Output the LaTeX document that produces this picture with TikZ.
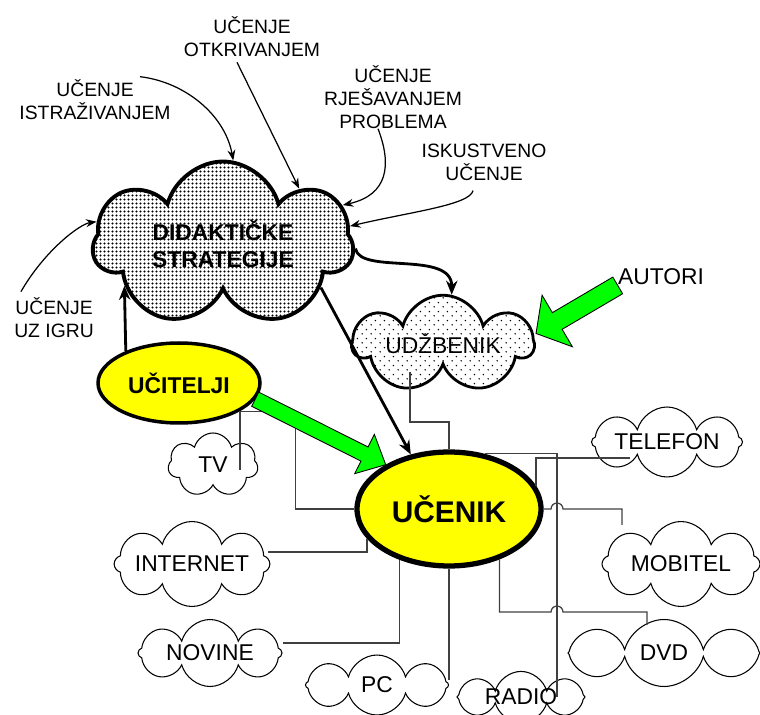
\documentclass[tikz,border=0pt]{standalone}
\usepackage{fontspec}
\setmainfont{Liberation Sans}
\usetikzlibrary{arrows.meta}
\usetikzlibrary{shapes.symbols}
\usetikzlibrary{shapes.geometric}
\usetikzlibrary{patterns.meta}
\usetikzlibrary{calc}

\definecolor{zelena}{RGB}{0,255,0}
\definecolor{zuta}{RGB}{255,255,0}

\tikzdeclarepattern{
	name=gustetocke,
	type=uncolored,
	bottom left={(0pt,0pt)},
	top right={(2pt,2pt)},
	tile size={(2pt,2pt)},
	code={\fill (1pt,1pt) circle (0.72pt);}
}
\tikzdeclarepattern{
	name=rijetketocke,
	type=uncolored,
	bottom left={(0pt,0pt)},
	top right={(5pt,5pt)},
	tile size={(5pt,5pt)},
	code={\fill (1.25pt,1.25pt) circle (0.45pt); \fill (3.75pt,3.75pt) circle (0.45pt);}
}

\tikzset{
	natpis/.style={align=center, inner sep=0pt, font=\fontsize{11}{13}\selectfont},
	oblak/.style={cloud, draw, cloud puffs=8, cloud ignores aspect, line width=0.6pt, inner sep=0pt, align=center, font=\fontsize{13}{15}\selectfont},
	osoba/.style={ellipse, draw, fill=zuta, inner sep=0pt},
	tanka/.style={-{Stealth[length=6pt,width=4.5pt]}, line width=0.7pt},
	debela/.style={-{Stealth[length=8pt,width=6.5pt]}, line width=1.6pt},
	vod/.style={line width=0.7pt, draw=black!75},
	zelenastrelica/.style={draw, fill=zelena, line width=0.5pt, line join=miter}
}

\newcommand{\debelastrelica}[5]{%
	\coordinate (ds-a) at (#1);
	\coordinate (ds-b) at (#2);
	\coordinate (ds-h) at ($(ds-b)!#5!(ds-a)$);
	\draw[zelenastrelica] ($(ds-a)!#3!90:(ds-b)$) -- ($(ds-h)!#3!90:(ds-b)$) -- ($(ds-h)!#4!90:(ds-b)$) -- (ds-b)
		-- ($(ds-h)!#4!-90:(ds-b)$) -- ($(ds-h)!#3!-90:(ds-b)$) -- ($(ds-a)!#3!-90:(ds-b)$) -- cycle;
}

\begin{document}
\begin{tikzpicture}[x=0.02cm, y=-0.02cm]
		\useasboundingbox (0,0) rectangle (760,715);
		\node[natpis] (otkrivanjem) at (252,37) {UČENJE\\OTKRIVANJEM};
		\node[natpis] (istrazivanjem) at (95,100) {UČENJE\\ISTRAŽIVANJEM};
		\node[natpis] (rjesavanjem) at (393,97) {UČENJE\\RJEŠAVANJEM\\PROBLEMA};
		\node[natpis] (iskustveno) at (484,162) {ISKUSTVENO\\UČENJE};
		\node[natpis] (uzigru) at (54,318) {UČENJE\\UZ IGRU};
		\node[natpis, font=\fontsize{13}{15}\selectfont] (autori) at (661,277) {AUTORI};
		\node[oblak, pattern=gustetocke, cloud puffs=7, line width=2.2pt, font=\fontsize{13}{15}\selectfont\bfseries, minimum width=5.2cm, minimum height=3.3cm] (didakticke) at (223,244) {DIDAKTIČKE\\STRATEGIJE};
		\node[oblak, pattern=rijetketocke, cloud puffs=7, line width=1.6pt, minimum width=3.6cm, minimum height=1.95cm] (udzbenik) at (443,344) {UDŽBENIK};
		\node[osoba, line width=2pt, font=\fontsize{13}{15}\selectfont\bfseries, minimum width=3.24cm, minimum height=1.6cm] (ucitelji) at (179,383) {UČITELJI};
		\node[osoba, line width=3pt, font=\fontsize{17}{19}\selectfont\bfseries, minimum width=3.68cm, minimum height=2.28cm] (ucenik) at (449,509) {UČENIK};
		\node[oblak, cloud puffs=7, minimum width=1.8cm, minimum height=1.28cm] (tv) at (213,465) {TV};
		\node[oblak, minimum width=3.1cm, minimum height=1.7cm] (internet) at (192,564) {INTERNET};
		\node[oblak, minimum width=2.88cm, minimum height=1.34cm] (novine) at (210,653) {NOVINE};
		\node[oblak, minimum width=2.86cm, minimum height=1.2cm] (pc) at (377,685) {PC};
		\node[oblak, minimum width=2.56cm, minimum height=0.96cm] (radio) at (521,697) {RADIO};
		\node[oblak, minimum width=3.84cm, minimum height=1.34cm] (dvd) at (664,653) {DVD};
		\node[oblak, minimum width=3.16cm, minimum height=1.7cm] (mobitel) at (681,564) {MOBITEL};
		\node[oblak, minimum width=3.02cm, minimum height=1.4cm] (telefon) at (667,442) {TELEFON};
		\coordinate (udzbenik-izlaz) at (410,372);
		\coordinate (tv-ulaz) at (240,470);
		\coordinate (internet-izlaz) at (268,552);
		\coordinate (novine-izlaz) at (283,643);
		\coordinate (pc-ulaz) at (449,680);
		\coordinate (radio-vod) at (557,455);
		\coordinate (radio-ulaz) at (557,697);
		\coordinate (dvd-ulaz) at (647,625);
		\coordinate (mobitel-ulaz) at (622,525);
		\coordinate (telefon-ulaz) at (630,458);
		\draw[tanka] ($(istrazivanjem.north)+(45,-3)$) .. controls (185,82) and (225,115) .. (didakticke.83);
		\draw[tanka] ($(otkrivanjem.south)+(-15,5)$) -- (didakticke.36);
		\draw[tanka] ($(rjesavanjem.south)+(-15,0)$) .. controls (392,165) and (388,195) .. (didakticke.18);
		\draw[tanka] ($(iskustveno.south)+(-11,10)$) .. controls (470,205) and (410,212) .. (didakticke.8);
		\draw[tanka] ($(uzigru.north west)+(7,-6)$) .. controls (45,250) and (80,224) .. (didakticke.170);
		\draw[debela] (ucitelji.149) -- (didakticke.203);
		\draw[debela] (didakticke.-2) .. controls (360,275) and (452,250) .. (udzbenik.80);
		\draw[debela] (didakticke.-24) -- (ucenik.125);
		\draw[vod] (udzbenik-izlaz) -- ++(0,50) -| (ucenik.north);
		\draw[vod] (ucitelji.-25) -- ++(56,0) |- (ucenik.west);
		\draw[vod] (ucitelji.-25) -| (tv-ulaz);
		\draw[vod] (internet-izlaz) -| (ucenik.200);
		\draw[vod] (novine-izlaz) -| (ucenik.226);
		\draw[vod] (ucenik.south) -- (pc-ulaz);
		\draw[vod] (ucenik.57) -| (radio-ulaz);
		\draw[vod] (ucenik.15) |- (telefon-ulaz);
		\draw[vod] (ucenik.east) -- ([xshift=-3.4pt]radio-vod |- ucenik.east) arc[start angle=180, end angle=0, radius=3.4pt] -| (mobitel-ulaz);
		\draw[vod] (ucenik.-45) |- ([xshift=-3.4pt]$(radio-vod)+(0,157)$) arc[start angle=180, end angle=0, radius=3.4pt] -| (dvd-ulaz);
		\debelastrelica{ucitelji.-12}{ucenik.145}{4.5pt}{12.5pt}{13.5pt}
		\debelastrelica{autori.south west}{[yshift=6pt]udzbenik.east}{5.5pt}{17pt}{14pt}
\end{tikzpicture}
\end{document}
